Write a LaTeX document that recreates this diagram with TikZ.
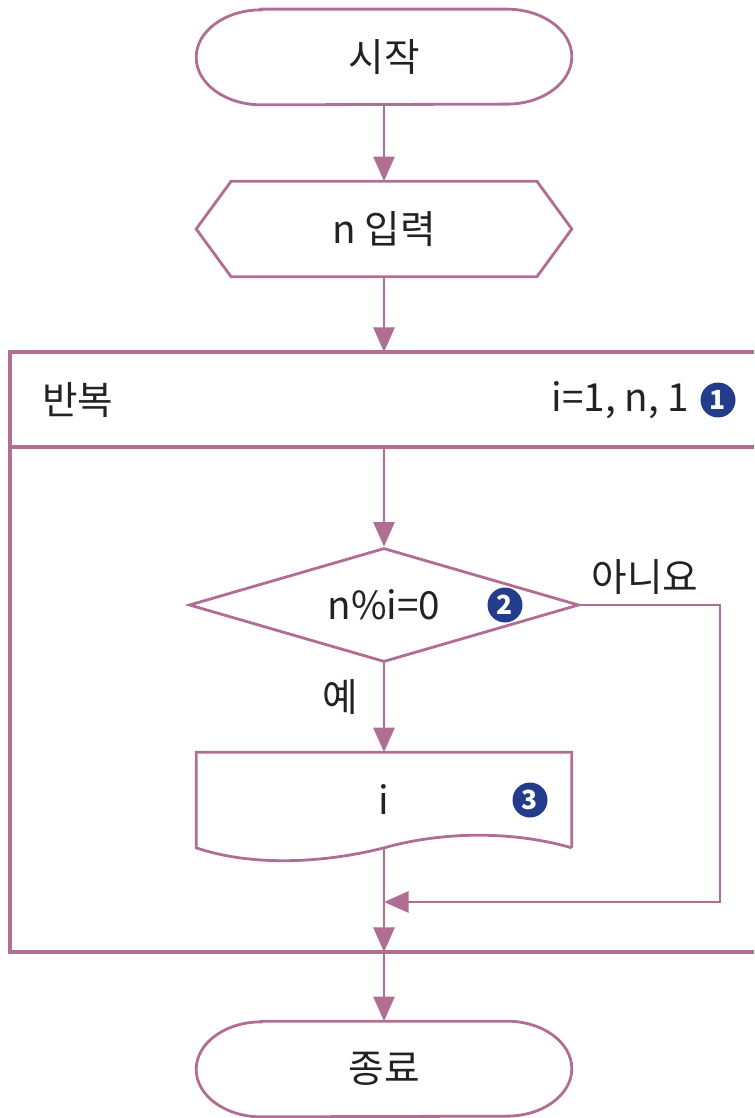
\documentclass[tikz,border=0pt]{standalone}
\usepackage{fontspec}
\setmainfont{Noto Sans CJK KR}
\usetikzlibrary{arrows.meta,positioning,shapes.geometric}
\definecolor{flowpink}{RGB}{176,110,146}
\definecolor{badgeblue}{RGB}{36,60,140}
\definecolor{inktext}{RGB}{34,34,34}
\newcommand{\termoutline}[1]{
  \draw[outline] ([xshift=1.3cm]#1.north west) -- ([xshift=-1.3cm]#1.north east)
    arc[start angle=90,end angle=-90,x radius=1.3cm,y radius=0.95cm]
    -- ([xshift=1.3cm]#1.south west)
    arc[start angle=270,end angle=90,x radius=1.3cm,y radius=0.95cm] -- cycle;
}
\tikzset{
  plainbox/.style={rectangle, minimum width=7.5cm, minimum height=1.9cm, inner sep=0pt},
  decide/.style={diamond, draw=flowpink, line width=1.6pt, aspect=3.4, minimum width=7.8cm, minimum height=2.28cm, inner sep=0pt},
  outline/.style={draw=flowpink, line width=1.6pt, line join=miter},
  boxline/.style={draw=flowpink, line width=2.4pt},
  flow/.style={draw=flowpink, line width=1.6pt, -{Triangle[width=12pt,length=14pt]}},
  badge/.style={circle, fill=badgeblue, text=white, inner sep=0pt, minimum size=0.7cm, font=\fontsize{15}{15}\selectfont\bfseries},
}

\begin{document}
\begin{tikzpicture}[x=0.02cm,y=-0.02cm,font=\fontsize{22}{26}\selectfont,text=inktext]
\useasboundingbox (0,0) rectangle (754,1118);
% start and input
\node[plainbox] (start) at (384,57) {시작};
\termoutline{start}
\node[plainbox] (input) at (384,229) {n 입력};
\draw[outline] (input.west) -- ([xshift=0.7cm]input.north west) -- ([xshift=-0.7cm]input.north east)
  -- (input.east) -- ([xshift=-0.7cm]input.south east) -- ([xshift=0.7cm]input.south west) -- cycle;
% loop box
\coordinate (looptop) at (384,352);
\coordinate (loopdiv) at (384,447);
\coordinate (loopbot) at (384,952);
\draw[boxline] (754,352) -- (10,352) -- (10,952) -- (754,952);
\draw[boxline] (10,447) -- (754,447);
\node[anchor=west] (loopname) at (36,400) {반복};
\node[badge] (b1) at (718,400) {1};
\node[left=0.1cm of b1] (looprange) {i=1, n, 1};
% condition
\node[decide] (cond) at (384,605) {n\%i=0};
\node[badge] (b2) at (505,605) {2};
\node (nolabel) at (645,577) {아니요};
\node (yeslabel) at (340,697) {예};
% output
\node[plainbox] (doc) at (384,800) {i};
\node[badge] (b3) at (530,800) {3};
\draw[outline] (doc.south east) -- (doc.north east) -- (doc.north west) -- (doc.south west)
  .. controls (250,866) and (320,864) .. (doc.south)
  .. controls (440,832) and (510,830) .. (doc.south east);
\coordinate (merge) at (384,902);
\coordinate (rightturn) at (720,902);
% end
\node[plainbox] (stop) at (384,1069) {종료};
\termoutline{stop}
% connectors
\draw[flow] (start) -- (input);
\draw[flow] (input) -- (looptop);
\draw[flow] (loopdiv) -- (cond);
\draw[flow] (cond) -- (doc);
\draw[flow] (cond.east) -| (rightturn) -- (merge);
\draw[outline] (doc.south) -- (merge);
\draw[flow] (merge) -- (loopbot);
\draw[flow] (loopbot) -- (stop);
\end{tikzpicture}
\end{document}
